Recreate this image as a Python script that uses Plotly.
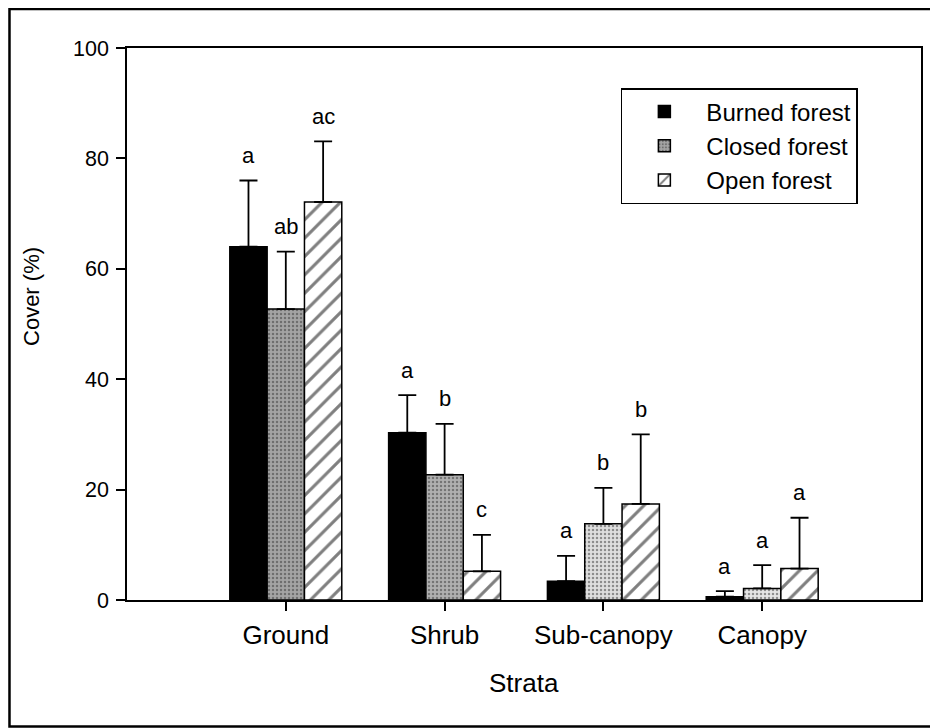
import plotly.graph_objects as go

categories = ["Ground", "Shrub", "Sub-canopy", "Canopy"]
series_names = ["Burned forest", "Closed forest", "Open forest"]
burned_mean = [64.0, 30.3, 3.4, 0.6]
burned_err = [12.0, 6.8, 4.6, 1.0]
closed_mean = [52.7, 22.7, 13.8, 2.1]
closed_err = [10.4, 9.2, 6.5, 4.2]
open_mean = [72.1, 5.2, 17.4, 5.7]
open_err = [11.0, 6.6, 12.6, 9.2]
burned_letters = ["a", "a", "a", "a"]
closed_letters = ["ab", "b", "b", "a"]
open_letters = ["ac", "c", "b", "a"]
y_ticks = [0, 20, 40, 60, 80, 100]

FONT = "Liberation Sans, Arial, sans-serif"
BARGAP = 0.295

means = [burned_mean, closed_mean, open_mean]
errs = [burned_err, closed_err, open_err]
letters = [burned_letters, closed_letters, open_letters]
closed_bg = ["#a4a4a4", "#b0b0b0", "#dedede", "#e6e6e6"]
patterns = [
    dict(shape="", fgcolor="black", bgcolor="black"),
    dict(shape=".", fgcolor="#3a3a3a", bgcolor=closed_bg, size=4, solidity=0.3),
    dict(shape="/", fgcolor="black", bgcolor="white", size=13, solidity=0.24),
]
colors = ["black", "#bdbdbd", "white"]

fig = go.Figure()
for j in range(3):
    fig.add_trace(go.Bar(
        x=categories, y=means[j], name=series_names[j],
        marker=dict(color=colors[j], line=dict(color="black", width=1.5),
                    pattern=patterns[j]),
        error_y=dict(type="data", symmetric=False, array=errs[j],
                     arrayminus=[0] * len(categories),
                     color="black", thickness=1.8, width=9),
    ))

barw = (1 - BARGAP) / 3
annotations = []
for j in range(3):
    for i, cat in enumerate(categories):
        annotations.append(dict(
            x=i + (j - 1) * barw, y=means[j][i] + errs[j][i], xref="x", yref="y",
            text=letters[j][i], showarrow=False, yanchor="middle", yshift=25,
            font=dict(family=FONT, size=22, color="black"),
        ))

annotations.append(dict(x=-0.1196, y=0.549, xref="paper", yref="paper",
                        text="Cover (%)", textangle=-90, showarrow=False,
                        xanchor="center", yanchor="middle",
                        font=dict(family=FONT, size=22, color="black")))
annotations.append(dict(x=0.5, y=-0.150, xref="paper", yref="paper",
                        text="Strata", showarrow=False,
                        xanchor="center", yanchor="middle",
                        font=dict(family=FONT, size=26, color="black")))

# page body has an 8px margin, so the figure is 8px smaller and shifted
fig.update_layout(
    width=930, height=720,
    margin=dict(l=119, r=17, t=40, b=128),
    paper_bgcolor="white", plot_bgcolor="white",
    barmode="group", bargap=BARGAP, bargroupgap=0,
    font=dict(family=FONT, color="black"),
    annotations=annotations,
    showlegend=True,
    legend=dict(x=0.622, y=0.9275, xanchor="left", yanchor="top",
                bordercolor="black", borderwidth=1.5, bgcolor="white",
                font=dict(family=FONT, size=24, color="black"),
                itemwidth=74, tracegroupgap=0),
    shapes=[dict(type="rect", xref="paper", yref="paper",
                 x0=-0.148, x1=1.05, y0=-0.229, y1=1.0707,
                 line=dict(color="black", width=2.5), layer="below")],
)
fig.update_xaxes(
    type="category", range=[-1, 4],
    showline=True, linecolor="black", linewidth=1.5, mirror=True,
    ticks="outside", ticklen=9, tickwidth=1.5, tickcolor="black",
    tickfont=dict(family=FONT, size=26, color="black"),
    ticklabelstandoff=2, showgrid=False, zeroline=False,
)
fig.update_yaxes(
    range=[0, 100], tickvals=y_ticks,
    showline=True, linecolor="black", linewidth=1.5, mirror=True,
    ticks="outside", ticklen=9, tickwidth=1.5, tickcolor="black",
    tickfont=dict(family=FONT, size=21.5, color="black"),
    ticklabelstandoff=3, showgrid=False, zeroline=False,
)

fig.write_html("out.html")
